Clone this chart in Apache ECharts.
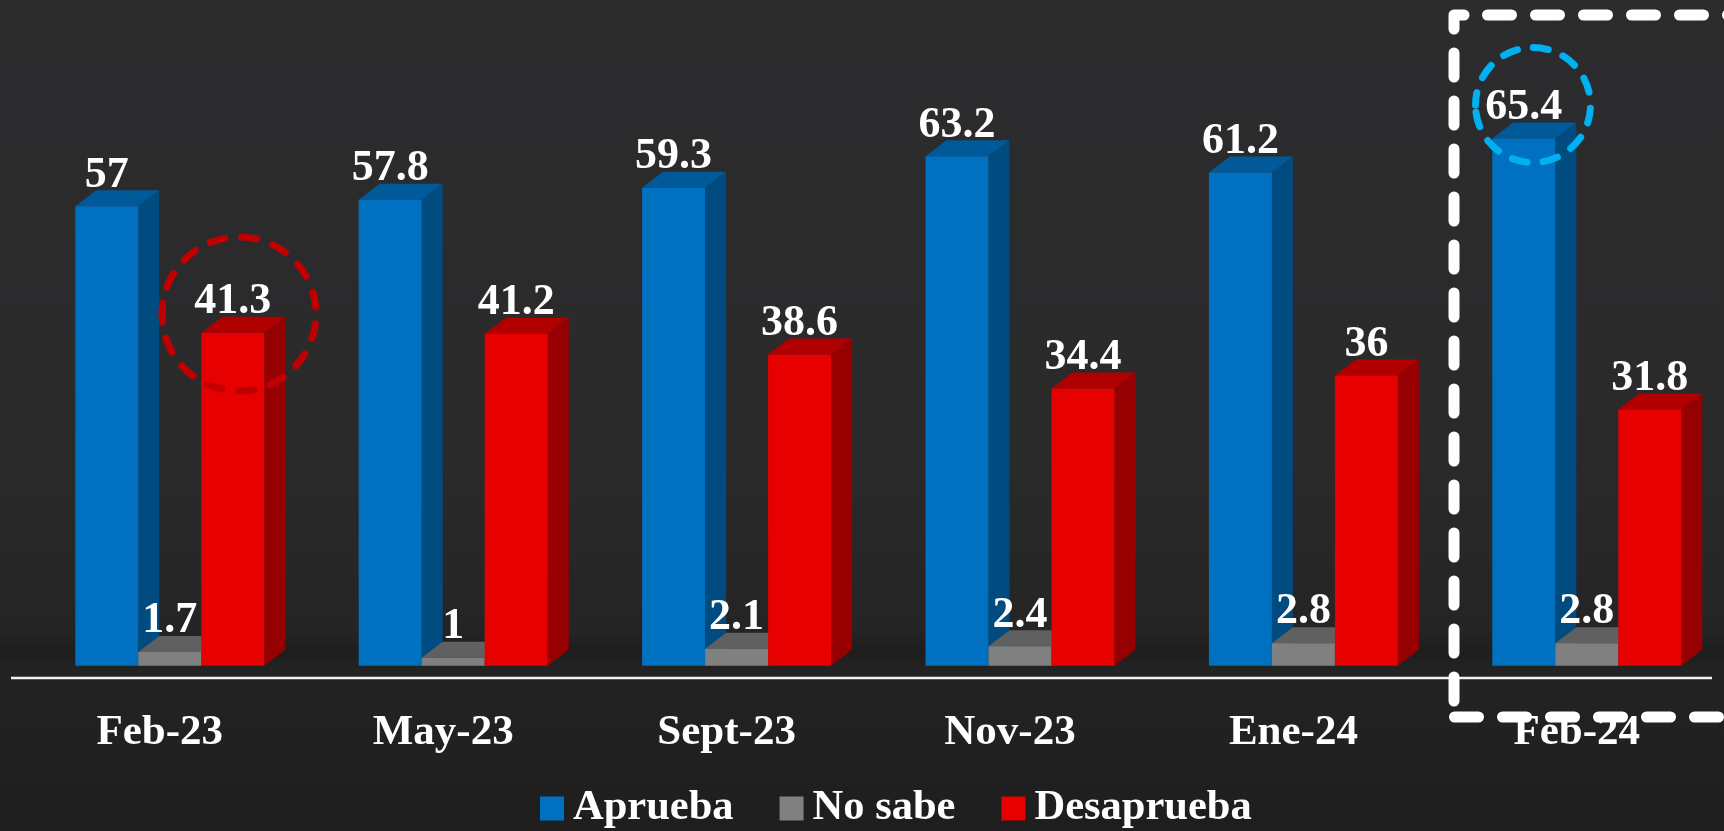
<!DOCTYPE html>
<html>
<head>
<meta charset="utf-8">
<style>html,body{margin:0;padding:0;width:1724px;height:831px;overflow:hidden;background:#262628}#c{width:1724px;height:831px}</style>
<script src="https://cdn.jsdelivr.net/npm/echarts@6/dist/echarts.min.js"></script>
</head>
<body>
<div id="c"></div>
<script>
const categories = ['Feb-23','May-23','Sept-23','Nov-23','Ene-24','Feb-24'];
const aprueba = [57,57.8,59.3,63.2,61.2,65.4];
const noSabe = [1.7,1,2.1,2.4,2.8,2.8];
const desaprueba = [41.3,41.2,38.6,34.4,36,31.8];

const FONT = '"Liberation Serif", serif';
const DEPTH_X = 21, DEPTH_Y = 16;

function bar3d(colors, slot) {
  return function (params, api) {
    const cat = api.value(0), val = api.value(1);
    const top = api.coord([cat, val]);
    const base = api.coord([cat, 0]);
    const band = api.size([1, 0])[0];
    const w = band * 0.2223;
    const x0 = top[0] + (slot - 1.5) * w;
    const x1 = x0 + w;
    const yT = top[1], yB = base[1];
    const children = [
      {type:'polygon', shape:{points:[[x1,yT],[x1+DEPTH_X,yT-DEPTH_Y],[x1+DEPTH_X,yB-DEPTH_Y],[x1,yB]]}, style:{fill:colors.side}},
      {type:'polygon', shape:{points:[[x0,yT],[x0+DEPTH_X,yT-DEPTH_Y],[x1+DEPTH_X,yT-DEPTH_Y],[x1,yT]]}, style:{fill:colors.top}},
      {type:'rect', shape:{x:x0,y:yT,width:w,height:yB-yT}, style:{fill:colors.front}},
      {type:'text', z2:100, style:{text:String(val), x:(x0+x1)/2, y:yT-9, align:'center', verticalAlign:'bottom',
        fill:'#fff', font:'bold 44px '+FONT}}
    ];
    return {type:'group', children};
  };
}

function mkSeries(name, data, colors, slot) {
  return {
    name, type:'custom', coordinateSystem:'cartesian2d',
    color: colors.front, itemStyle:{color:colors.legend},
    encode:{x:0,y:1},
    data:data.map((v,i)=>[i,v]),
    renderItem:bar3d(colors,slot), clip:false, silent:true, animation:false
  };
}

const chart = echarts.init(document.getElementById('c'), null, {renderer:'canvas', width:1724, height:831});

chart.setOption({
  animation:false,
  backgroundColor:{type:'linear',x:0,y:0,x2:0,y2:1,colorStops:[{offset:0,color:'#2c2c2e'},{offset:0.55,color:'#2a2a2b'},{offset:0.78,color:'#242424'},{offset:1,color:'#1e1e1e'}]},
  grid:{left:28.1,width:1700.4,top:20.9,height:644.8,containLabel:false,outerBoundsMode:'none'},
  xAxis:{type:'category',data:categories,boundaryGap:true,
    axisLine:{show:false},axisTick:{show:false},splitLine:{show:false},
    axisLabel:{color:'#fff',fontFamily:FONT,fontWeight:'bold',fontSize:43,margin:46,padding:[0,20,0,0],interval:0,hideOverlap:false}},
  yAxis:{type:'value',min:0,max:80,show:false,splitLine:{show:false}},
  legend:{left:535,top:782,itemWidth:24,itemHeight:24,itemGap:46,icon:'rect',
    textStyle:{color:'#fff',fontFamily:FONT,fontWeight:'bold',fontSize:42.5,padding:[0,0,0,4]},
    data:['Aprueba','No sabe','Desaprueba']},
  series:[
    mkSeries('Aprueba',aprueba,{front:'#0070c0',side:'#004b80',top:'#005a9a',legend:'#0070c0'},0),
    mkSeries('No sabe',noSabe,{front:'#808080',side:'#555',top:'#606060',legend:'#808080'},1),
    mkSeries('Desaprueba',desaprueba,{front:'#e60000',side:'#960000',top:'#b00000',legend:'#e60000'},2)
  ],
  graphic:[
    {type:'rect',z:0,shape:{x:0,y:630,width:1724,height:40},style:{fill:{type:'linear',x:0,y:0,x2:0,y2:1,colorStops:[{offset:0,color:'rgba(0,0,0,0)'},{offset:0.55,color:'rgba(0,0,0,0.18)'},{offset:1,color:'rgba(0,0,0,0)'}]}}},
    {type:'line',z:50,shape:{x1:11,y1:678,x2:1712,y2:678},style:{stroke:'#f2f2f2',lineWidth:2.5}},
    {type:'ellipse',z:60,shape:{cx:239,cy:314,rx:77,ry:77},style:{fill:null,stroke:'#c00000',lineWidth:7,lineDash:[15,17],lineDashOffset:4.5,lineCap:'round'}},
    {type:'ellipse',z:60,shape:{cx:1533,cy:105,rx:57.5,ry:57.5},style:{fill:null,stroke:'#00b0f0',lineWidth:7,lineDash:[15,16],lineDashOffset:2.5,lineCap:'round'}},
    {type:'polyline',z:60,shape:{points:[[1464,15],[1454,15],[1454,712]]},style:{fill:null,stroke:'#fff',lineWidth:11,lineDash:[24,24],lineCap:'round',lineJoin:'round'}},
    {type:'line',z:60,shape:{x1:1487.5,y1:15,x2:1730,y2:15},style:{stroke:'#fff',lineWidth:11,lineDash:[24,24],lineCap:'round'}},
    {type:'line',z:60,shape:{x1:1454.5,y1:717,x2:1730,y2:717},style:{stroke:'#fff',lineWidth:11,lineDash:[24,24],lineCap:'round'}}
  ]
});
</script>
</body>
</html>
